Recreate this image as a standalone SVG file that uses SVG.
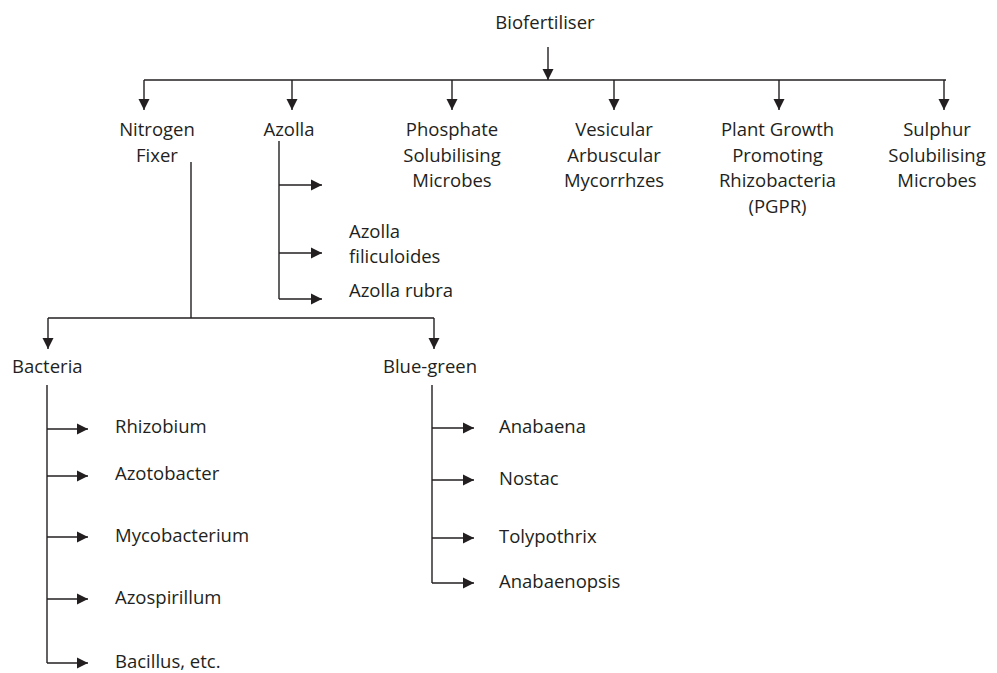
<svg xmlns="http://www.w3.org/2000/svg" width="997" height="673" viewBox="0 0 997 673">
<defs>
<marker id="ah" markerUnits="userSpaceOnUse" markerWidth="12" markerHeight="12" viewBox="0 0 12 12" refX="11" refY="6" orient="auto">
<path d="M0,0.5 L11,6 L0,11.5 Z" fill="#231f20"/>
</marker>
<style>
text{font-family:"Open Sans","Noto Sans",sans-serif;font-size:18.5px;fill:#231f20}
.c{text-anchor:middle}
.ln{stroke:#231f20;stroke-width:1.4;fill:none}
.ar{stroke:#231f20;stroke-width:1.4;fill:none;marker-end:url(#ah)}
</style>
</defs>
<rect width="997" height="673" fill="#fff"/>
<g id="connectors">
<line class="ar" x1="548" y1="47" x2="548" y2="80"/>
<line class="ln" x1="144" y1="80" x2="946" y2="80"/>
<line class="ar" x1="144" y1="80" x2="144" y2="110"/>
<line class="ar" x1="292" y1="80" x2="292" y2="110"/>
<line class="ar" x1="452" y1="80" x2="452" y2="110"/>
<line class="ar" x1="614" y1="80" x2="614" y2="110"/>
<line class="ar" x1="779" y1="80" x2="779" y2="110"/>
<line class="ar" x1="944" y1="80" x2="944" y2="110"/>
<line class="ln" x1="279" y1="141" x2="279" y2="299"/>
<line class="ar" x1="279" y1="185" x2="322" y2="185"/>
<line class="ar" x1="279" y1="253" x2="322" y2="253"/>
<line class="ar" x1="279" y1="299" x2="322" y2="299"/>
<line class="ln" x1="191" y1="162" x2="191" y2="318"/>
<line class="ln" x1="48" y1="318" x2="434" y2="318"/>
<line class="ar" x1="48" y1="318" x2="48" y2="349"/>
<line class="ar" x1="434" y1="318" x2="434" y2="349"/>
<line class="ln" x1="47" y1="385" x2="47" y2="663"/>
<line class="ar" x1="47" y1="429" x2="88" y2="429"/>
<line class="ar" x1="47" y1="476" x2="88" y2="476"/>
<line class="ar" x1="47" y1="537" x2="88" y2="537"/>
<line class="ar" x1="47" y1="599" x2="88" y2="599"/>
<line class="ar" x1="47" y1="663" x2="88" y2="663"/>
<line class="ln" x1="432" y1="385" x2="432" y2="583"/>
<line class="ar" x1="432" y1="428" x2="474" y2="428"/>
<line class="ar" x1="432" y1="480" x2="474" y2="480"/>
<line class="ar" x1="432" y1="538" x2="474" y2="538"/>
<line class="ar" x1="432" y1="583" x2="474" y2="583"/>
</g>
<g id="biofertiliser"><text class="c" x="545" y="29">Biofertiliser</text></g>
<g id="nitrogen-fixer"><text class="c" x="157" y="136">Nitrogen</text><text class="c" x="157" y="161.5">Fixer</text></g>
<g id="azolla"><text class="c" x="289" y="136">Azolla</text></g>
<g id="phosphate"><text class="c" x="452" y="136">Phosphate</text><text class="c" x="452" y="161.5">Solubilising</text><text class="c" x="452" y="187">Microbes</text></g>
<g id="vesicular"><text class="c" x="614" y="136">Vesicular</text><text class="c" x="614" y="161.5">Arbuscular</text><text class="c" x="614" y="187">Mycorrhzes</text></g>
<g id="pgpr"><text class="c" x="777.5" y="136">Plant Growth</text><text class="c" x="777.5" y="161.5">Promoting</text><text class="c" x="777.5" y="187">Rhizobacteria</text><text class="c" x="777.5" y="212.5">(PGPR)</text></g>
<g id="sulphur"><text class="c" x="937" y="136">Sulphur</text><text class="c" x="937" y="161.5">Solubilising</text><text class="c" x="937" y="187">Microbes</text></g>
<g id="azolla-filiculoides"><text x="349" y="238">Azolla</text><text x="349" y="263">filiculoides</text></g>
<g id="azolla-rubra"><text x="349" y="297">Azolla rubra</text></g>
<g id="bacteria"><text x="12" y="373">Bacteria</text></g>
<g id="blue-green"><text x="383" y="373">Blue-green</text></g>
<g id="rhizobium"><text x="115" y="433">Rhizobium</text></g>
<g id="azotobacter"><text x="115" y="480">Azotobacter</text></g>
<g id="mycobacterium"><text x="115" y="542">Mycobacterium</text></g>
<g id="azospirillum"><text x="115" y="604">Azospirillum</text></g>
<g id="bacillus"><text x="115" y="668">Bacillus, etc.</text></g>
<g id="anabaena"><text x="499" y="433">Anabaena</text></g>
<g id="nostac"><text x="499" y="485">Nostac</text></g>
<g id="tolypothrix"><text x="499" y="543">Tolypothrix</text></g>
<g id="anabaenopsis"><text x="499" y="588">Anabaenopsis</text></g>
</svg>
